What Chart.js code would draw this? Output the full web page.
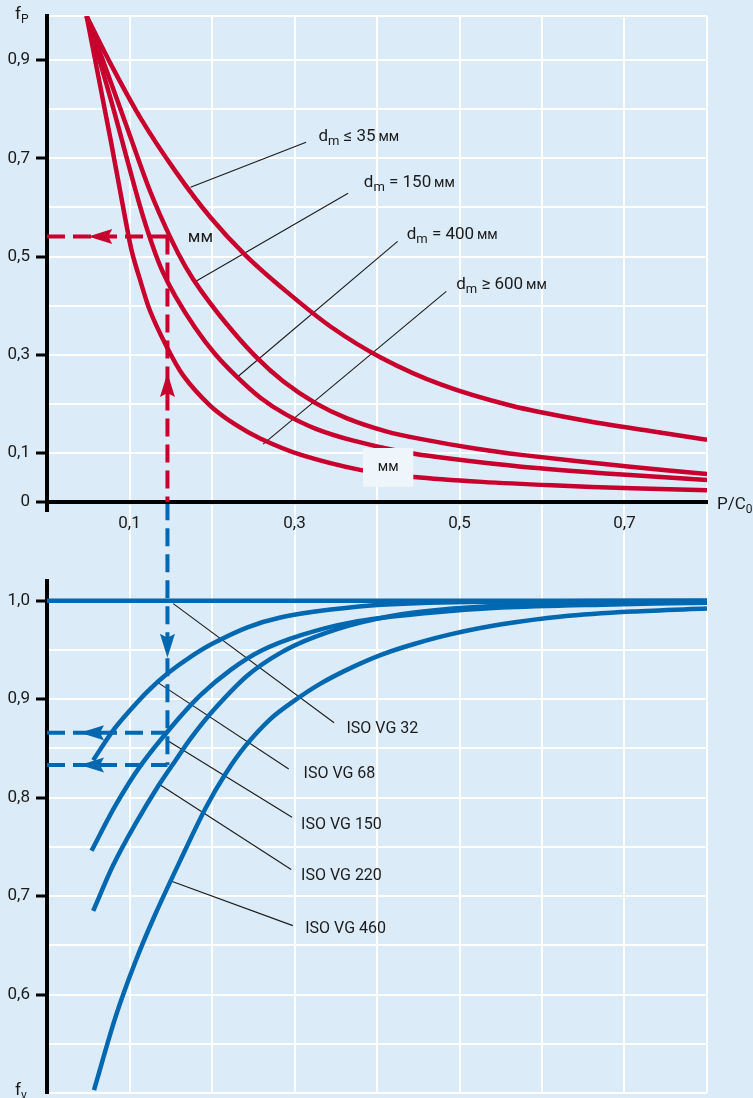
<!DOCTYPE html>
<html>
<head>
<meta charset="utf-8">
<script src="https://cdn.jsdelivr.net/npm/chart.js@4.4.1/dist/chart.umd.min.js"></script>
<style>
  html, body { margin: 0; padding: 0; background: #dbebf7; }
  #wrap { position: relative; width: 753px; height: 1098px; overflow: hidden; }
  canvas { position: absolute; left: 0; top: 0; }
</style>
</head>
<body>
<div id="wrap">
  <canvas id="fv-chart" width="753" height="1098"></canvas>
  <canvas id="fp-chart" width="753" height="1098"></canvas>
</div>
<script>
// --- ticks ---
const pcTicks = [0, 0.1, 0.2, 0.3, 0.4, 0.5, 0.6, 0.7, 0.8];
const pcTickLabels = ['', '0,1', '', '0,3', '', '0,5', '', '0,7', ''];
const fpTicks = [0, 0.1, 0.2, 0.3, 0.4, 0.5, 0.6, 0.7, 0.8, 0.9, 0.99];
const fpTickLabels = ['0', '0,1', '', '0,3', '', '0,5', '', '0,7', '', '0,9', ''];
const fvTicks = [0.5, 0.55, 0.6, 0.65, 0.7, 0.75, 0.8, 0.85, 0.9, 0.95, 1.0];
const fvTickLabels = ['', '', '0,6', '', '0,7', '', '0,8', '', '0,9', '', '1,0'];

// --- f_P curves (x = P/C0, y = f_P) ---
const dmNames = ['≤ 35', '= 150', '= 400', '≥ 600'];
const fpDm35 = [[0.048, 0.99], [0.077, 0.893], [0.113, 0.783], [0.156, 0.673], [0.198, 0.580], [0.241, 0.502],
  [0.290, 0.429], [0.344, 0.357], [0.405, 0.294], [0.478, 0.239], [0.563, 0.196], [0.648, 0.167], [0.733, 0.144],
  [0.800, 0.127]];
const fpDm150 = [[0.048, 0.99], [0.074, 0.871], [0.101, 0.744], [0.125, 0.633], [0.150, 0.537], [0.168, 0.479],
  [0.186, 0.432], [0.217, 0.364], [0.253, 0.296], [0.287, 0.245], [0.326, 0.201], [0.363, 0.171], [0.411, 0.144],
  [0.454, 0.128], [0.515, 0.110], [0.575, 0.096], [0.707, 0.072], [0.800, 0.057]];
const fpDm400 = [[0.048, 0.99], [0.077, 0.822], [0.113, 0.601], [0.128, 0.522], [0.140, 0.470], [0.156, 0.418],
  [0.180, 0.354], [0.204, 0.301], [0.229, 0.257], [0.259, 0.212], [0.290, 0.178], [0.326, 0.149], [0.369, 0.126],
  [0.429, 0.103], [0.490, 0.088], [0.575, 0.072], [0.697, 0.056], [0.800, 0.045]];
const fpDm600 = [[0.048, 0.99], [0.077, 0.739], [0.095, 0.576], [0.103, 0.509], [0.114, 0.446], [0.125, 0.389],
  [0.144, 0.320], [0.165, 0.258], [0.198, 0.196], [0.229, 0.157], [0.259, 0.129], [0.308, 0.096], [0.381, 0.065],
  [0.445, 0.051], [0.527, 0.041], [0.612, 0.034], [0.709, 0.028], [0.800, 0.024]];
const fpLeaders = [[[0.174, 0.641], [0.314, 0.733]], [[0.180, 0.449], [0.365, 0.629]],
  [[0.229, 0.252], [0.425, 0.531]], [[0.262, 0.118], [0.484, 0.429]]];
const fpLabelAt = [[0.329, 0.735], [0.384, 0.641], [0.436, 0.535], [0.496, 0.433]];
// worked example: P/C0 = 0.146 -> f_P = 0.541
const exampleX = 0.146;
const exampleFp = 0.541;
const mmMarkAt = [0.186, 0.539];
const mmBox = [0.383, 0.444, 0.031, 0.110];

// --- f_v curves (x = P/C0, y = f_v) ---
const vgNames = ['ISO VG 32', 'ISO VG 68', 'ISO VG 150', 'ISO VG 220', 'ISO VG 460'];
const fvVg32 = [[0, 1.0], [0.8, 1.0]];
const fvVg68 = [[0.056, 0.838], [0.080, 0.868], [0.101, 0.889], [0.122, 0.908], [0.146, 0.926], [0.174, 0.943],
  [0.202, 0.957], [0.243, 0.973], [0.283, 0.983], [0.344, 0.991], [0.405, 0.996], [0.527, 0.999], [0.800, 1.0]];
const fvVg150 = [[0.054, 0.746], [0.083, 0.792], [0.113, 0.832], [0.150, 0.871], [0.186, 0.904], [0.223, 0.930],
  [0.259, 0.949], [0.308, 0.965], [0.369, 0.978], [0.454, 0.987], [0.551, 0.993], [0.673, 0.996], [0.800, 0.998]];
const fvVg220 = [[0.056, 0.685], [0.080, 0.731], [0.107, 0.773], [0.135, 0.812], [0.156, 0.838], [0.174, 0.860],
  [0.202, 0.889], [0.243, 0.924], [0.283, 0.947], [0.324, 0.963], [0.381, 0.978], [0.445, 0.988], [0.551, 0.995],
  [0.673, 0.998], [0.800, 0.999]];
const fvVg460 = [[0.057, 0.503], [0.083, 0.577], [0.107, 0.633], [0.131, 0.681], [0.162, 0.737], [0.192, 0.789],
  [0.217, 0.825], [0.241, 0.853], [0.271, 0.880], [0.299, 0.898], [0.332, 0.916], [0.369, 0.932], [0.405, 0.945],
  [0.445, 0.956], [0.490, 0.966], [0.551, 0.976], [0.624, 0.984], [0.709, 0.989], [0.800, 0.992]];
const fvLeaders = [[[0.153, 0.997], [0.348, 0.876]], [[0.134, 0.917], [0.293, 0.829]],
  [[0.144, 0.859], [0.297, 0.780]], [[0.135, 0.814], [0.296, 0.727]], [[0.151, 0.715], [0.298, 0.670]]];
const fvLabelAt = [[0.363, 0.866], [0.311, 0.820], [0.308, 0.768], [0.308, 0.716], [0.313, 0.663]];
const exampleFv = [0.866, 0.833];

const RED = '#c8002d';
const BLUE = '#0067b1';
const INK = '#1b1b1b';
const FONT = 'Roboto, "Noto Sans", sans-serif';
const DASH = [18, 8];

const pts = (arr) => arr.map(([x, y]) => ({ x, y }));

function curve(data, color) {
    return { data: pts(data), borderColor: color, borderWidth: 4.5, pointRadius: 0, tension: 0.3, fill: false };
}
function dashed(data, color, clip) {
    return { data: pts(data), borderColor: color, borderWidth: 4, borderDash: DASH, pointRadius: 0, tension: 0, clip: clip ? undefined : false };
}
function leader(data) {
    return { data: pts(data), borderColor: INK, borderWidth: 1.1, pointRadius: 0, tension: 0 };
}

// texte avec indices: parts = [[texte, taille, decalage]]
function drawRich(ctx, x, y, parts) {
    let cx = x;
    parts.forEach(([t, size, dy]) => {
        ctx.font = `${size}px ${FONT}`;
        ctx.fillText(t, cx, y + dy);
        cx += ctx.measureText(t).width;
    });
}

function drawArrow(ctx, px, py, dir, color) {
    const ang = { left: Math.PI, right: 0, up: -Math.PI / 2, down: Math.PI / 2 }[dir];
    ctx.save();
    ctx.translate(px, py);
    ctx.rotate(ang);
    ctx.fillStyle = color;
    ctx.beginPath();
    ctx.moveTo(0, 0);
    ctx.lineTo(-24, -7.5);
    ctx.lineTo(-20, 0);
    ctx.lineTo(-24, 7.5);
    ctx.closePath();
    ctx.fill();
    ctx.restore();
}

function fixedAxis(size, key) {
    return (scale) => {
        scale[key] = size;
        scale.paddingTop = 0; scale.paddingBottom = 0; scale.paddingLeft = 0; scale.paddingRight = 0;
    };
}
const setTicks = (values) => (scale) => { scale.ticks = values.map((v) => ({ value: v })); };
const isLabelled = (labels) => (ctx) => labels[ctx.index] !== '' && labels[ctx.index] !== undefined;

// ---------- f_P chart (top) ----------
const fpAnnotations = {
    id: 'fpAnnotations',
    afterDatasetsDraw(chart) {
        const { ctx, scales: { x, y }, chartArea } = chart;
        ctx.save();
        // white patch with "мм"
        const bx1 = x.getPixelForValue(mmBox[0]), bx2 = x.getPixelForValue(mmBox[1]);
        const by1 = y.getPixelForValue(mmBox[3]), by2 = y.getPixelForValue(mmBox[2]);
        ctx.fillStyle = '#eef6fc';
        ctx.fillRect(bx1, by1, bx2 - bx1, by2 - by1);
        ctx.fillStyle = INK;
        ctx.textAlign = 'center';
        ctx.textBaseline = 'middle';
        ctx.font = `14px ${FONT}`;
        ctx.fillText('мм', (bx1 + bx2) / 2, (by1 + by2) / 2);
        ctx.font = `17px ${FONT}`;
        ctx.fillText('мм', x.getPixelForValue(mmMarkAt[0]), y.getPixelForValue(mmMarkAt[1]));

        ctx.textAlign = 'left';
        ctx.textBaseline = 'alphabetic';
        dmNames.forEach((name, i) => {
            const px = x.getPixelForValue(fpLabelAt[i][0]);
            const py = y.getPixelForValue(fpLabelAt[i][1]);
            drawRich(ctx, px, py, [['d', 17, 0], ['m', 13, 4], [' ' + name, 17, 0], ['\u2009мм', 14, 0]]);
        });
        drawRich(ctx, 15, chartArea.top + 3, [['f', 17, 0], ['P', 12, 4]]);
        drawRich(ctx, chartArea.right + 10, y.getPixelForValue(0) + 7, [['P/C', 17, 0], ['0', 12, 4]]);

        drawArrow(ctx, x.getPixelForValue(0.05), y.getPixelForValue(exampleFp), 'left', RED);
        drawArrow(ctx, x.getPixelForValue(exampleX), y.getPixelForValue(0.263), 'up', RED);
        ctx.restore();
    },
};

new Chart(document.getElementById('fp-chart'), {
    type: 'line',
    data: {
        datasets: [
            dashed([[0, exampleFp], [exampleX, exampleFp]], RED, true),
            dashed([[exampleX, exampleFp], [exampleX, 0]], RED, true),
            curve(fpDm35, RED),
            curve(fpDm150, RED),
            curve(fpDm400, RED),
            curve(fpDm600, RED),
            ...fpLeaders.map(leader),
        ],
    },
    options: {
        responsive: false,
        animation: false,
        devicePixelRatio: 1,
        layout: { padding: { left: 0, right: 46, top: 16, bottom: 556 } },
        plugins: { legend: { display: false }, tooltip: { enabled: false } },
        scales: {
            x: {
                type: 'linear', min: 0, max: 0.8,
                afterBuildTicks: setTicks(pcTicks),
                afterFit: fixedAxis(40, 'height'),
                border: { color: '#000', width: 4 },
                grid: {
                    color: (c) => (c.index === 0 ? 'rgba(0,0,0,0)' : '#ffffff'),
                    lineWidth: 2,
                    tickLength: 10,
                    tickColor: (c) => (c.index === 0 ? '#000' : 'rgba(0,0,0,0)'),
                    tickWidth: 4,
                },
                ticks: {
                    padding: 2,
                    color: INK,
                    font: { family: FONT, size: 17 },
                    maxRotation: 0,
                    autoSkip: false,
                    callback: (v, i) => pcTickLabels[i],
                },
            },
            y: {
                type: 'linear', min: 0, max: 0.99,
                afterBuildTicks: setTicks(fpTicks),
                afterFit: fixedAxis(47, 'width'),
                border: { color: '#000', width: 4 },
                grid: {
                    color: '#ffffff',
                    lineWidth: 2,
                    tickLength: 11,
                    tickColor: (c) => (isLabelled(fpTickLabels)(c) ? '#000' : 'rgba(0,0,0,0)'),
                    tickWidth: 3,
                },
                ticks: {
                    padding: 6,
                    color: INK,
                    font: { family: FONT, size: 17 },
                    autoSkip: false,
                    callback: (v, i) => fpTickLabels[i],
                },
            },
        },
    },
    plugins: [fpAnnotations],
});

// ---------- f_v chart (bottom) ----------
const fvAnnotations = {
    id: 'fvAnnotations',
    afterDatasetsDraw(chart) {
        const { ctx, scales: { x, y }, chartArea } = chart;
        ctx.save();
        ctx.fillStyle = INK;
        ctx.textAlign = 'left';
        ctx.textBaseline = 'alphabetic';
        ctx.font = `16px ${FONT}`;
        vgNames.forEach((name, i) => {
            ctx.fillText(name, x.getPixelForValue(fvLabelAt[i][0]), y.getPixelForValue(fvLabelAt[i][1]));
        });
        drawRich(ctx, 15, chartArea.bottom + 2, [['f', 17, 0], ['v', 12, 4]]);
        drawArrow(ctx, x.getPixelForValue(exampleX), y.getPixelForValue(0.942), 'down', BLUE);
        exampleFv.forEach((v) => drawArrow(ctx, x.getPixelForValue(0.04), y.getPixelForValue(v), 'left', BLUE));
        ctx.restore();
    },
};

new Chart(document.getElementById('fv-chart'), {
    type: 'line',
    data: {
        datasets: [
            dashed([[exampleX, 1.1], [exampleX, exampleFv[1]]], BLUE, false),
            dashed([[0, exampleFv[0]], [exampleX, exampleFv[0]]], BLUE, true),
            dashed([[0, exampleFv[1]], [exampleX, exampleFv[1]]], BLUE, true),
            curve(fvVg32, BLUE),
            curve(fvVg68, BLUE),
            curve(fvVg150, BLUE),
            curve(fvVg220, BLUE),
            curve(fvVg460, BLUE),
            ...fvLeaders.map(leader),
        ],
    },
    options: {
        responsive: false,
        animation: false,
        devicePixelRatio: 1,
        layout: { padding: { left: 0, right: 46, top: 505, bottom: 5 } },
        plugins: { legend: { display: false }, tooltip: { enabled: false } },
        scales: {
            x: {
                type: 'linear', min: 0, max: 0.8, position: 'top',
                afterBuildTicks: setTicks(pcTicks),
                afterFit: fixedAxis(76, 'height'),
                border: { display: false },
                grid: {
                    color: (c) => (c.index === 0 ? 'rgba(0,0,0,0)' : '#ffffff'),
                    lineWidth: 2,
                    tickLength: 76,
                    tickColor: (c) => (c.index === 0 ? 'rgba(0,0,0,0)' : '#ffffff'),
                    tickWidth: 2,
                },
                ticks: { display: false },
            },
            y: {
                type: 'linear', min: 0.5, max: 1.02,
                afterBuildTicks: setTicks(fvTicks),
                afterFit: fixedAxis(47, 'width'),
                border: { color: '#000', width: 4 },
                grid: {
                    color: '#ffffff',
                    lineWidth: 2,
                    tickLength: 11,
                    tickColor: (c) => (isLabelled(fvTickLabels)(c) ? '#000' : 'rgba(0,0,0,0)'),
                    tickWidth: 3,
                },
                ticks: {
                    padding: 6,
                    color: INK,
                    font: { family: FONT, size: 17 },
                    autoSkip: false,
                    callback: (v, i) => fvTickLabels[i],
                },
            },
        },
    },
    plugins: [fvAnnotations],
});
</script>
</body>
</html>
